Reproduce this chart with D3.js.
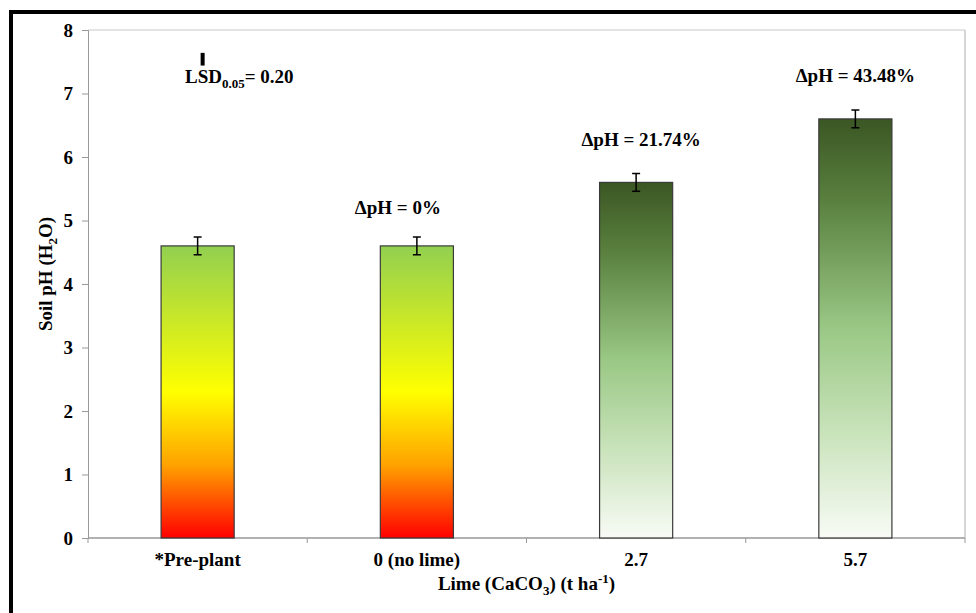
<!DOCTYPE html>
<html>
<head>
<meta charset="utf-8">
<script src="https://cdn.jsdelivr.net/npm/d3@7"></script>
<style>
  body { margin: 0; background: #fff; }
  svg text { font-family: "Liberation Serif", "Times New Roman", serif !important; font-weight: bold; fill: #000; }
</style>
</head>
<body>
<div id="chart"></div>
<script>
// data
const categories = ["*Pre-plant", "0 (no lime)", "2.7", "5.7"];
const phValues = [4.6, 4.6, 5.6, 6.6];
const errValues = [0.14, 0.14, 0.14, 0.14];
const deltaLabels = [null, "0%", "21.74%", "43.48%"];
const yTicks = [0, 1, 2, 3, 4, 5, 6, 7, 8];
const lsdValue = 0.20;
const lsdTop = 7.64;

const W = 976, H = 613;
const margin = { top: 30, right: 11, bottom: 75, left: 88 };
const width = W - margin.left - margin.right;
const height = H - margin.top - margin.bottom;
const FS = "19px", SUB = "13px";

const svg = d3.select("#chart").append("svg")
    .attr("width", W)
    .attr("height", H);

const defs = svg.append("defs");
const warm = defs.append("linearGradient").attr("id", "warm")
    .attr("x1", 0).attr("y1", 0).attr("x2", 0).attr("y2", 1);
[["0%", "#92d050"], ["50%", "#ffff00"], ["75%", "#ffa200"], ["100%", "#ff0000"]]
    .forEach(s => warm.append("stop").attr("offset", s[0]).attr("stop-color", s[1]));
const green = defs.append("linearGradient").attr("id", "green")
    .attr("x1", 0).attr("y1", 0).attr("x2", 0).attr("y2", 1);
[["0%", "#3b5724"], ["20%", "#5a813f"], ["50%", "#9ac885"], ["75%", "#c9e3bb"], ["100%", "#f8fbf5"]]
    .forEach(s => green.append("stop").attr("offset", s[0]).attr("stop-color", s[1]));

// outer frame
svg.append("rect")
    .attr("x", 11).attr("y", 12)
    .attr("width", W + 20).attr("height", H + 20)
    .attr("fill", "none")
    .attr("stroke", "#000")
    .attr("stroke-width", 4);

const g = svg.append("g")
    .attr("transform", `translate(${margin.left},${margin.top})`);

const x = d3.scaleBand().domain(categories).range([0, width]).paddingInner(2 / 3).paddingOuter(1 / 3);
const xOuter = d3.scaleBand().domain(categories).range([0, width]);
const y = d3.scaleLinear().domain([0, 8]).range([height, 0]);

// plot frame (top and right)
g.append("line").attr("x1", 0).attr("x2", width).attr("y1", 0).attr("y2", 0)
    .attr("stroke", "#c8c8c8");
g.append("line").attr("x1", width).attr("x2", width).attr("y1", 0).attr("y2", height)
    .attr("stroke", "#c8c8c8").attr("stroke-width", 1.5);

// y axis
const yAxis = g.append("g")
    .call(d3.axisLeft(y).tickValues(yTicks).tickSize(6).tickPadding(9));
yAxis.select(".domain").attr("stroke", "#999");
yAxis.selectAll(".tick line").attr("stroke", "#999");
yAxis.selectAll("text").style("font-size", FS).attr("fill", "#000");

// x axis with ticks between categories
const xAxisG = g.append("g").attr("transform", `translate(0,${height})`);
xAxisG.append("line").attr("x1", 0).attr("x2", width).attr("stroke", "#999").attr("stroke-width", 1.5);
const boundaries = categories.map(c => xOuter(c)).concat([width]);
xAxisG.selectAll(".xt").data(boundaries).join("line")
    .attr("x1", d => d).attr("x2", d => d)
    .attr("y1", 0).attr("y2", 5)
    .attr("stroke", "#999");
xAxisG.selectAll(".xl").data(categories).join("text")
    .attr("x", d => x(d) + x.bandwidth() / 2)
    .attr("y", 28)
    .attr("text-anchor", "middle")
    .style("font-size", FS)
    .text(d => d);

// bars
g.selectAll(".bar").data(categories).join("rect")
    .attr("class", "bar")
    .attr("x", d => x(d))
    .attr("width", x.bandwidth())
    .attr("y", (d, i) => y(phValues[i]))
    .attr("height", (d, i) => height - y(phValues[i]))
    .attr("fill", (d, i) => i < 2 ? "url(#warm)" : "url(#green)")
    .attr("stroke", "#3a3a3a")
    .attr("stroke-width", 1.2);

// error bars
const eb = g.selectAll(".err").data(categories).join("g")
    .attr("transform", d => `translate(${x(d) + x.bandwidth() / 2},0)`);
eb.append("line")
    .attr("y1", (d, i) => y(phValues[i] + errValues[i]))
    .attr("y2", (d, i) => y(phValues[i] - errValues[i]))
    .attr("stroke", "#000").attr("stroke-width", 1.5);
eb.each(function (d, i) {
    [phValues[i] + errValues[i], phValues[i] - errValues[i]].forEach(v => {
        d3.select(this).append("line")
            .attr("x1", -4).attr("x2", 4)
            .attr("y1", y(v)).attr("y2", y(v))
            .attr("stroke", "#000").attr("stroke-width", 1.5);
    });
});

// delta pH labels
categories.forEach((c, i) => {
    if (deltaLabels[i] === null) return;
    g.append("text")
        .attr("x", x(c) + x.bandwidth() / 2 + (i === 1 ? -19 : i === 2 ? 5 : 0))
        .attr("y", y(phValues[i] + errValues[i]) - (i === 1 ? 23 : 28))
        .attr("text-anchor", "middle")
        .style("font-size", FS)
        .text(`\u0394pH = ${deltaLabels[i]}`);
});

// LSD bar and label
const lsdX = x(categories[0]) + x.bandwidth() / 2 + 5;
g.append("rect")
    .attr("x", lsdX - 2).attr("width", 4)
    .attr("y", y(lsdTop))
    .attr("height", y(lsdTop - lsdValue) - y(lsdTop))
    .attr("fill", "#000");
const lsd = g.append("text")
    .attr("x", 97).attr("y", 53)
    .style("font-size", FS);
lsd.append("tspan").text("LSD");
lsd.append("tspan").attr("dy", 5).style("font-size", SUB).text("0.05");
lsd.append("tspan").attr("dy", -5).text("= " + lsdValue.toFixed(2));

// axis titles
const xt = g.append("text")
    .attr("x", width / 2)
    .attr("y", height + 52)
    .attr("text-anchor", "middle")
    .style("font-size", FS);
xt.append("tspan").text("Lime (CaCO");
xt.append("tspan").attr("dy", 5).style("font-size", SUB).text("3");
xt.append("tspan").attr("dy", -5).text(") (t ha");
xt.append("tspan").attr("dy", -7).style("font-size", SUB).text("-1");
xt.append("tspan").attr("dy", 7).text(")");

const yt = g.append("text")
    .attr("transform", `translate(-36,${height / 2 - 10}) rotate(-90)`)
    .attr("text-anchor", "middle")
    .style("font-size", FS);
yt.append("tspan").text("Soil pH (H");
yt.append("tspan").attr("dy", 5).style("font-size", SUB).text("2");
yt.append("tspan").attr("dy", -5).text("O)");
</script>
</body>
</html>
